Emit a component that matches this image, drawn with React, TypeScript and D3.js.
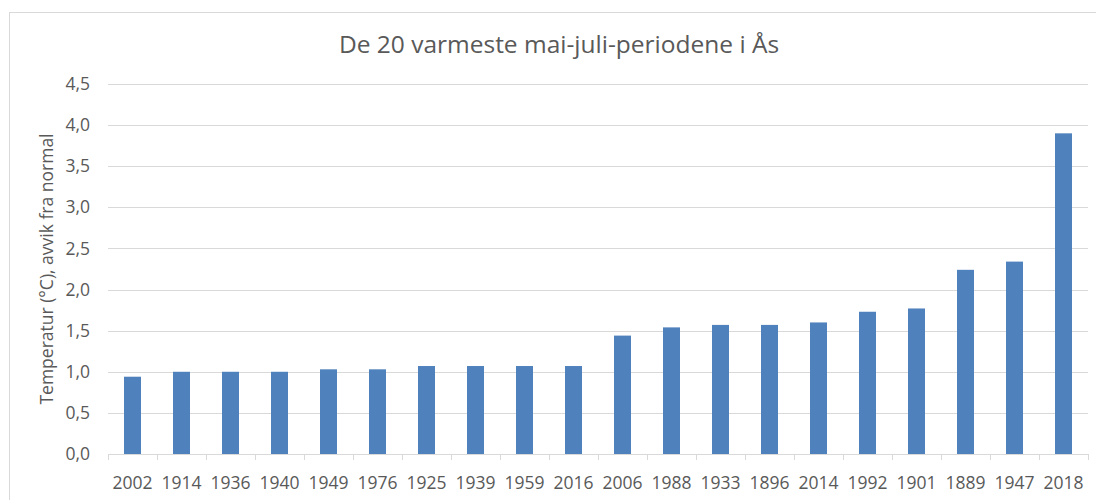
import React from "react";
import * as d3 from "d3";

const years = [
  "2002", "1914", "1936", "1940", "1949", "1976", "1925", "1939", "1959", "2016",
  "2006", "1988", "1933", "1896", "2014", "1992", "1901", "1889", "1947", "2018",
];
const anomaly = [
  0.94, 1.0, 1.0, 1.0, 1.03, 1.03, 1.07, 1.07, 1.07, 1.07,
  1.44, 1.54, 1.57, 1.57, 1.6, 1.73, 1.77, 2.24, 2.34, 3.9,
];
const yTicks = [0, 0.5, 1, 1.5, 2, 2.5, 3, 3.5, 4, 4.5];

const title = "De 20 varmeste mai-juli-periodene i Ås";
const yLabel = "Temperatur (°C), avvik fra normal";

const W = 1096;
const H = 500;
const FONT = "'Open Sans', sans-serif";
const TEXT = "#595959";
const GRID = "#d9d9d9";
const BAR = "#4f81bd";

export default function App() {
  const left = 108;
  const right = 1088;
  const top = 84;
  const bottom = 454;

  const x = d3.scaleBand<string>().domain(years).range([left, right]).paddingInner(0).paddingOuter(0);
  const y = d3.scaleLinear().domain([0, 4.5]).range([bottom, top]);
  const fmt = (v: number) => d3.format(".1f")(v).replace(".", ",");
  const barW = 17;

  return (
    <svg
      width={W}
      height={H}
      style={{ position: "absolute", left: 0, top: 0, background: "#fff" }}
      fontFamily={FONT}
    >
      {/* chart border */}
      <rect x={9.5} y={12.5} width={W + 10} height={H + 10} fill="none" stroke={GRID} />

      <text x={559} y={53} textAnchor="middle" fontSize={24.5} fill={TEXT}>
        {title}
      </text>

      {yTicks.map((t) => (
        <g key={t}>
          <line x1={left} x2={right} y1={Math.round(y(t)) + 0.5} y2={Math.round(y(t)) + 0.5} stroke={GRID} />
          <text x={90} y={y(t)} dy="0.35em" textAnchor="end" fontSize={17.5} fill={TEXT}>
            {fmt(t)}
          </text>
        </g>
      ))}

      <text
        transform={`translate(47,${(top + bottom) / 2}) rotate(-90)`}
        dy="0.35em"
        textAnchor="middle"
        fontSize={17.5}
        fill={TEXT}
      >
        {yLabel}
      </text>

      {years.map((yr, i) => (
        <rect
          key={yr}
          x={x(yr)! + x.bandwidth() / 2 - barW / 2}
          y={y(anomaly[i])}
          width={barW}
          height={y(0) - y(anomaly[i])}
          fill={BAR}
        />
      ))}

      {/* x axis line and ticks */}
      <line x1={left} x2={right} y1={bottom + 0.5} y2={bottom + 0.5} stroke={GRID} />
      {years.concat(["end"]).map((yr, i) => {
        const xp = Math.round(left + i * x.bandwidth()) + 0.5;
        return <line key={"t" + yr} x1={xp} x2={xp} y1={bottom} y2={bottom + 6} stroke={GRID} />;
      })}
      {years.map((yr) => (
        <text
          key={"l" + yr}
          x={x(yr)! + x.bandwidth() / 2}
          y={489}
          textAnchor="middle"
          fontSize={17.5}
          fill={TEXT}
        >
          {yr}
        </text>
      ))}
    </svg>
  );
}
